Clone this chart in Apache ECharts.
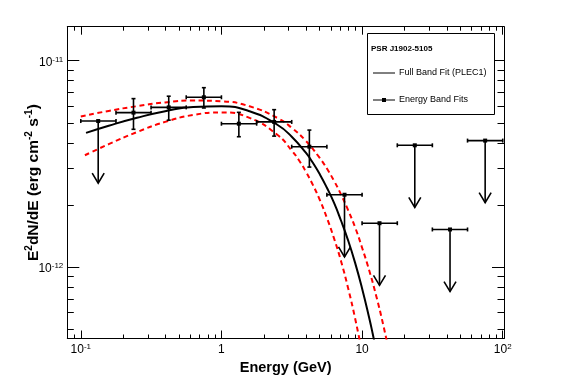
<!DOCTYPE html>
<html><head><meta charset="utf-8">
<script src="https://cdn.jsdelivr.net/npm/echarts@6/dist/echarts.min.js"></script>
<style>html,body{margin:0;padding:0;background:#fff}#c{width:567px;height:384px}</style>
</head><body><div id="c"></div><script>
const FONT = '"Liberation Sans", Arial, Helvetica, sans-serif';

// ---- Energy band fits (GeV, erg cm^-2 s^-1) ----
const bandLo     = [0.1, 0.178, 0.316, 0.562, 1.0, 1.78, 3.16, 5.62, 10.0, 17.8, 31.6, 56.2];
const bandHi     = [0.178, 0.316, 0.562, 1.0, 1.78, 3.16, 5.62, 10.0, 17.8, 31.6, 56.2, 100];
const bandCenter = [0.133, 0.237, 0.422, 0.750, 1.33, 2.37, 4.22, 7.50, 13.3, 23.7, 42.2, 75.0];
const bandFlux   = [5.10e-12, 5.60e-12, 5.94e-12, 6.65e-12, 4.95e-12, 5.05e-12, 3.83e-12, 2.24e-12, 1.63e-12, 3.89e-12, 1.52e-12, 4.10e-12];
const bandErr    = [0, 0.95e-12, 0.79e-12, 0.75e-12, 0.67e-12, 0.74e-12, 0.78e-12, 0, 0, 0, 0, 0];
const bandUL     = [1, 0, 0, 0, 0, 0, 0, 1, 1, 1, 1, 1];

// ---- Full band fit (PLEC1) ----
const fitE   = [0.109, 0.158, 0.251, 0.398, 0.631, 1.0, 1.585, 2.512, 3.162, 3.981, 4.467, 5.012, 5.623, 6.31, 7.079, 7.943, 8.913, 10.0, 11.22, 11.89, 12.59];
const fitVal = [4.47e-12, 4.84e-12, 5.29e-12, 5.69e-12, 5.97e-12, 6.01e-12, 5.69e-12, 4.88e-12, 4.28e-12, 3.58e-12, 3.20e-12, 2.81e-12, 2.42e-12, 2.05e-12, 1.68e-12, 1.35e-12, 1.05e-12, 7.87e-13, 5.69e-13, 4.76e-13, 3.94e-13];

// ---- Upper / lower error band ----
const upE   = [0.1, 0.158, 0.251, 0.398, 0.631, 1.0, 1.585, 2.512, 3.162, 3.981, 5.012, 5.623, 6.31, 7.079, 7.943, 8.913, 10.0, 11.22, 12.59, 14.13, 15.85];
const upVal = [5.37e-12, 5.71e-12, 6.02e-12, 6.28e-12, 6.41e-12, 6.36e-12, 6.01e-12, 5.27e-12, 4.73e-12, 4.09e-12, 3.37e-12, 3.00e-12, 2.62e-12, 2.25e-12, 1.89e-12, 1.56e-12, 1.24e-12, 9.66e-13, 7.26e-13, 5.25e-13, 3.65e-13];
const loE   = [0.107, 0.158, 0.251, 0.398, 0.631, 1.0, 1.585, 2.512, 3.162, 3.548, 3.981, 4.467, 5.012, 5.623, 6.31, 7.079, 7.943, 8.913, 10.0];
const loVal = [3.48e-12, 3.94e-12, 4.51e-12, 5.05e-12, 5.46e-12, 5.61e-12, 5.28e-12, 4.36e-12, 3.67e-12, 3.30e-12, 2.90e-12, 2.50e-12, 2.11e-12, 1.73e-12, 1.38e-12, 1.07e-12, 7.93e-13, 5.65e-13, 3.85e-13];

// ---- Axes ----
const xMin = 0.0802, xMax = 102.1;
const yMin = 4.5e-13, yMax = 1.462e-11;
const xMajorTicks = [0.1, 1, 10, 100];
const xMinorTicks = [0.09, 0.2, 0.3, 0.4, 0.5, 0.6, 0.7, 0.8, 0.9, 2, 3, 4, 5, 6, 7, 8, 9, 20, 30, 40, 50, 60, 70, 80, 90];
const yMajorTicks = [1e-12, 1e-11];
const yMinorTicks = [5e-13, 6e-13, 7e-13, 8e-13, 9e-13, 2e-12, 3e-12, 4e-12, 5e-12, 6e-12, 7e-12, 8e-12, 9e-12];

const supRich = {
  b: {fontSize: 12, fontFamily: FONT, color: '#000', lineHeight: 12, padding: [4, 0, 0, 0]},
  s: {fontSize: 8, fontFamily: FONT, color: '#000', lineHeight: 10, verticalAlign: 'top', padding: [1, 0, 0, 0]}
};
function powLabel(v) {
  const p = Math.round(Math.log10(v));
  if (p === 0) return '{b|1}';
  if (p === 1) return '{b|10}';
  return '{b|10}{s|' + p + '}';
}

const grid = {left: 67.3, right: 63, top: 26.7, bottom: 45.5, outerBoundsMode: 'none', containLabel: false};
function xAx(gi, pos, ticks, len, labels, line) {
  return {
    type: 'log', gridIndex: gi, position: pos, min: xMin, max: xMax,
    axisLine: {show: line, lineStyle: {color: '#000', width: 1}},
    axisTick: {show: true, inside: true, length: len, customValues: ticks, lineStyle: {color: '#000', width: 1}},
    axisLabel: {show: labels, customValues: ticks, formatter: powLabel, margin: 3, rich: supRich, color: '#000'},
    splitLine: {show: false}, minorTick: {show: false}
  };
}
function yAx(gi, pos, ticks, len, labels, line) {
  return {
    type: 'log', gridIndex: gi, position: pos, min: yMin, max: yMax,
    axisLine: {show: line, lineStyle: {color: '#000', width: 1}},
    axisTick: {show: true, inside: true, length: len, customValues: ticks, lineStyle: {color: '#000', width: 1}},
    axisLabel: {show: labels, customValues: ticks, formatter: powLabel, margin: 4, rich: supRich, color: '#000'},
    splitLine: {show: false}, minorTick: {show: false}
  };
}

const xMain = xAx(0, 'bottom', xMajorTicks, 8, true, true);
xMain.name = 'Energy (GeV)';
xMain.nameLocation = 'middle';
xMain.nameGap = 21;
xMain.nameMoveOverlap = false;
xMain.nameTextStyle = {fontSize: 14.5, fontWeight: 'bold', fontFamily: FONT, color: '#000', lineHeight: 17};

const yMain = yAx(0, 'left', yMajorTicks, 12, true, true);
yMain.name = '{t|E}{s|2}{t|dN/dE (erg cm}{s|-2}{t| s}{s|-1}{t|)}';
yMain.nameLocation = 'middle';
yMain.nameGap = 29;
yMain.nameRotate = 90;
yMain.nameMoveOverlap = false;
yMain.nameTextStyle = {
  fontFamily: FONT, color: '#000',
  rich: {
    t: {fontSize: 15.5, fontWeight: 'bold', fontFamily: FONT, color: '#000', lineHeight: 15, padding: [5, 0, 0, 0]},
    s: {fontSize: 10, fontWeight: 'bold', fontFamily: FONT, color: '#000', lineHeight: 11, verticalAlign: 'top', padding: [1, 0, 0, 0]}
  }
};

const errStyle = {stroke: '#000', lineWidth: 1.6, fill: null};

const option = {
  animation: false,
  backgroundColor: '#fff',
  grid: [Object.assign({}, grid), Object.assign({}, grid)],
  xAxis: [
    xMain,
    xAx(0, 'top', xMajorTicks, 8, false, true),
    xAx(1, 'bottom', xMinorTicks, 4, false, false),
    xAx(1, 'top', xMinorTicks, 4, false, false)
  ],
  yAxis: [
    yMain,
    yAx(0, 'right', yMajorTicks, 12, false, true),
    yAx(1, 'left', yMinorTicks, 6.5, false, false),
    yAx(1, 'right', yMinorTicks, 6.5, false, false)
  ],
  series: [
    {
      type: 'line', xAxisIndex: 0, yAxisIndex: 0, smooth: true, showSymbol: false, symbol: 'none', clip: true,
      data: upE.map((e, i) => [e, upVal[i]]),
      lineStyle: {color: '#ff0000', width: 2, type: [5, 3.5]}, z: 2
    },
    {
      type: 'line', xAxisIndex: 0, yAxisIndex: 0, smooth: true, showSymbol: false, symbol: 'none', clip: true,
      data: loE.map((e, i) => [e, loVal[i]]),
      lineStyle: {color: '#ff0000', width: 2, type: [5, 3.5]}, z: 2
    },
    {
      type: 'line', xAxisIndex: 0, yAxisIndex: 0, smooth: true, showSymbol: false, symbol: 'none', clip: true,
      data: fitE.map((e, i) => [e, fitVal[i]]),
      lineStyle: {color: '#000', width: 2}, z: 3
    },
    {
      type: 'custom', xAxisIndex: 0, yAxisIndex: 0, z: 4,
      data: bandCenter.map((c, i) => [c, bandLo[i], bandHi[i], bandFlux[i], bandErr[i], bandUL[i]]),
      encode: {x: [0, 1, 2], y: [3]},
      renderItem: function (params, api) {
        const c = api.value(0), lo = api.value(1), hi = api.value(2), f = api.value(3), e = api.value(4), ul = api.value(5);
        const P = api.coord([c, f]), L = api.coord([lo, f]), R = api.coord([hi, f]);
        const ch = [];
        const ln = (x1, y1, x2, y2) => ch.push({type: 'line', shape: {x1, y1, x2, y2}, style: errStyle});
        ln(L[0], P[1], R[0], P[1]);
        ln(L[0], P[1] - 2, L[0], P[1] + 2);
        ln(R[0], P[1] - 2, R[0], P[1] + 2);
        if (ul) {
          const T = api.coord([c, f * 0.5]);
          ln(P[0], P[1], T[0], T[1]);
          ch.push({type: 'polyline', shape: {points: [[T[0] - 6, T[1] - 10], [T[0], T[1]], [T[0] + 6, T[1] - 10]]}, style: errStyle});
        } else {
          const U = api.coord([c, f + e]), D = api.coord([c, f - e]);
          ln(P[0], U[1], P[0], D[1]);
          ln(P[0] - 2, U[1], P[0] + 2, U[1]);
          ln(P[0] - 2, D[1], P[0] + 2, D[1]);
        }
        ch.push({type: 'rect', shape: {x: P[0] - 2, y: P[1] - 2, width: 4, height: 4}, style: {fill: '#000'}});
        return {type: 'group', children: ch};
      }
    }
  ],
  graphic: [
    {type: 'rect', left: 367, top: 33, z: 100, shape: {x: 0, y: 0, width: 127, height: 81}, style: {fill: '#fff', stroke: '#000', lineWidth: 1}},
    {type: 'text', x: 371, y: 49, z: 101, style: {text: 'PSR J1902-5105', fontFamily: FONT, fontSize: 8, fontWeight: 'bold', fill: '#000', verticalAlign: 'middle'}},
    {type: 'line', z: 101, shape: {x1: 373, y1: 73, x2: 395, y2: 73}, style: {stroke: '#000', lineWidth: 1}},
    {type: 'text', x: 399, y: 73, z: 101, style: {text: 'Full Band Fit (PLEC1)', fontFamily: FONT, fontSize: 9, fill: '#000', verticalAlign: 'middle'}},
    {type: 'line', z: 101, shape: {x1: 373, y1: 100, x2: 395, y2: 100}, style: {stroke: '#000', lineWidth: 1}},
    {type: 'rect', z: 101, shape: {x: 382, y: 98, width: 4, height: 4}, style: {fill: '#000'}},
    {type: 'text', x: 399, y: 100, z: 101, style: {text: 'Energy Band Fits', fontFamily: FONT, fontSize: 9, fill: '#000', verticalAlign: 'middle'}}
  ]
};

const chart = echarts.init(document.getElementById('c'), null, {renderer: 'canvas'});
chart.setOption(option);
</script></body></html>
